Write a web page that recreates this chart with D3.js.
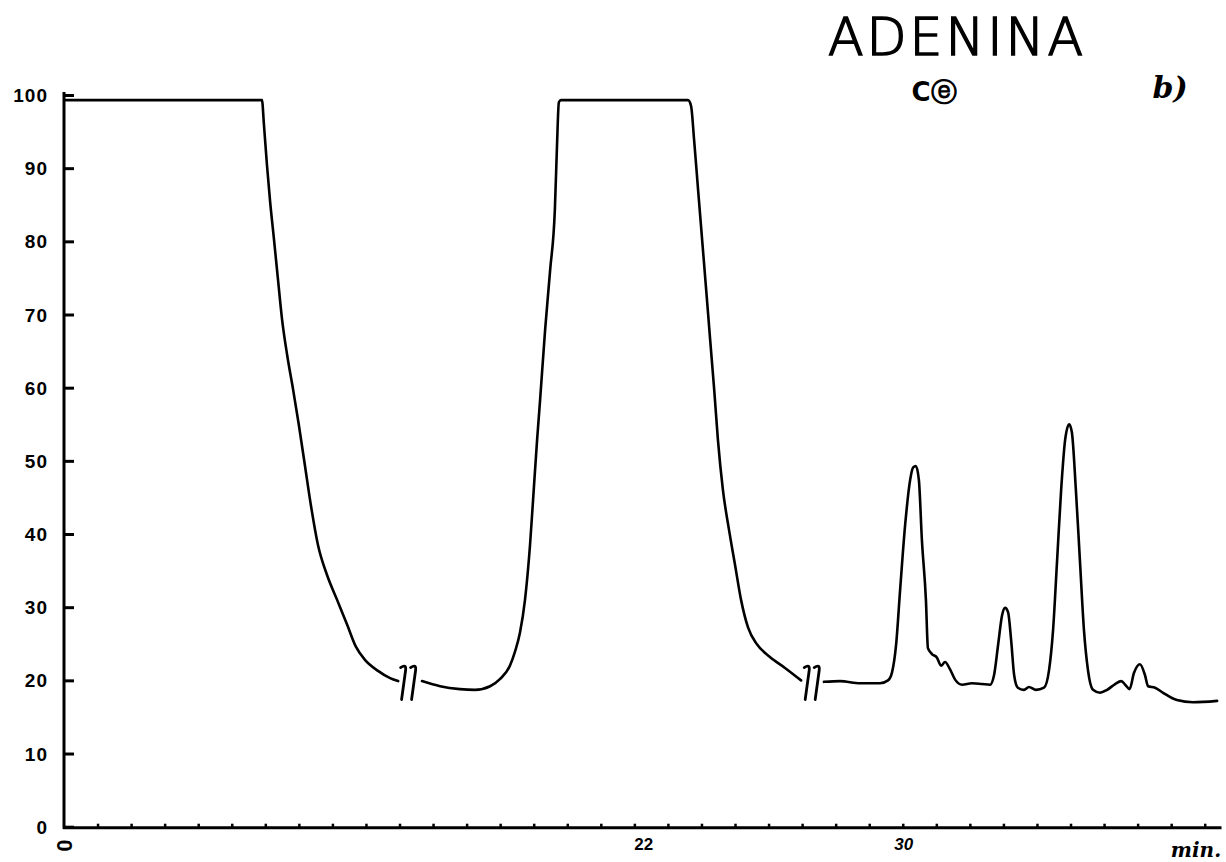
<!DOCTYPE html>
<html>
<head>
<meta charset="utf-8">
<script src="https://cdn.jsdelivr.net/npm/d3@7"></script>
<style>
  body { margin: 0; background: #fff; }
  svg { display: block; }
</style>
</head>
<body>
<div id="chart"></div>
<script>
// --- data (x in axis tick units, y in % of full scale) ---
var yTicks = [0, 10, 20, 30, 40, 50, 60, 70, 80, 90, 100];
var xMinorTicks = d3.range(1, 35);
var xTickValues = [0, 17.25, 25];
var xTickLabels = ["0", "22", "30"];

// trace before the first break
var segA = [[0.05,99.3],[5.90,99.3],[5.96,95.9],[6.05,90.4],[6.14,85.6],[6.26,80.2],[6.38,74.7],
  [6.50,69.3],[6.65,64.5],[6.83,59.7],[7.00,54.9],[7.18,49.4],[7.36,43.9],[7.57,38.5],[7.84,34.4],
  [8.14,31.0],[8.44,27.6],[8.70,24.6],[8.97,22.8],[9.36,21.3],[9.72,20.3],[9.96,19.9]];

// between the two breaks
var segB = [[10.67,19.9],[11.21,19.2],[11.80,18.8],[12.25,18.7],[12.70,19.2],[13.00,20.2],[13.29,22.0],
  [13.44,23.9],[13.59,26.5],[13.74,31.0],[13.89,38.5],[13.98,44.6],[14.10,52.8],[14.19,58.3],[14.34,67.9],
  [14.49,76.1],[14.63,84.3],[14.69,92.5],[14.75,99.0],[14.81,99.3],[18.60,99.3],[18.69,98.5],[18.78,93.9],
  [18.90,87.0],[19.02,80.2],[19.14,73.4],[19.26,66.5],[19.38,59.7],[19.49,52.9],[19.64,46.0],[19.82,40.6],
  [20.00,35.8],[20.18,31.0],[20.39,27.2],[20.66,24.9],[21.04,23.2],[21.49,21.7],[21.97,20.0]];

// after the second break : the peaks
var segC = [[22.65,19.8],[23.13,19.9],[23.73,19.6],[24.32,19.6],[24.56,20.0],[24.68,21.1],[24.80,24.8],
  [24.92,32.3],[25.07,41.2],[25.22,47.4],[25.31,49.1],[25.39,49.3],[25.48,47.4],[25.57,39.2],[25.69,31.0],
  [25.75,24.4],[25.87,23.6],[26.02,23.1],[26.14,22.0],[26.26,22.5],[26.41,21.5],[26.56,20.1],[26.77,19.4],
  [27.06,19.6],[27.36,19.5],[27.60,19.4],[27.72,20.7],[27.84,24.8],[27.96,28.9],[28.05,29.9],[28.14,29.3],
  [28.23,25.5],[28.32,20.7],[28.43,19.0],[28.61,18.7],[28.76,19.1],[28.97,18.7],[29.21,19.0],[29.36,21.4],
  [29.48,26.9],[29.60,36.4],[29.72,46.0],[29.84,52.9],[29.96,55.0],[30.04,53.9],[30.16,46.0],[30.28,36.4],
  [30.40,26.9],[30.52,21.4],[30.67,18.7],[30.88,18.3],[31.09,18.7],[31.33,19.5],[31.51,19.9],[31.65,19.3],
  [31.76,18.8],[31.89,21.0],[32.07,22.2],[32.22,20.7],[32.31,19.2],[32.52,19.0],[32.76,18.3],[33.17,17.3],
  [33.65,17.0],[34.37,17.2]];

// where the recorder trace was cut
var breaks = [[10.3,19.7],[22.33,19.7]];

// --- drawing ---
var W = 1226, H = 862;
var svg = d3.select('#chart').append('svg').attr('width', W).attr('height', H);

var x = d3.scaleLinear().domain([0, 34.5]).range([64, 1221.5]);
var y = d3.scaleLinear().domain([0, 100]).range([826.7, 95]);

var ink = '#000';

// y axis: ticks point inward
var yAxis = d3.axisRight(y).tickValues(yTicks).tickSize(10).tickFormat('');
var gy = svg.append('g').attr('transform', 'translate(' + x(0) + ',0)').call(yAxis);
gy.select('.domain').attr('stroke', ink).attr('stroke-width', 3)
  .attr('d', 'M0,' + (y(100) - 3) + 'V' + (y(0) + 2));
gy.selectAll('.tick line').attr('stroke', ink).attr('stroke-width', 3);

svg.selectAll('text.ylab').data(yTicks).enter().append('text')
  .attr('class', 'ylab')
  .attr('x', 48)
  .attr('y', function(d){ return y(d) + 7; })
  .attr('text-anchor', 'end')
  .style('font-family', 'Liberation Sans, Arial, sans-serif')
  .style('font-weight', 'bold')
  .style('font-size', '19px')
  .style('letter-spacing', '1px')
  .text(function(d){ return d; });

// x axis: small upward ticks
var xAxis = d3.axisTop(x).tickValues(xMinorTicks).tickSize(4).tickFormat('');
var gx = svg.append('g').attr('transform', 'translate(0,' + (y(0) + 1) + ')').call(xAxis);
gx.select('.domain').attr('stroke', ink).attr('stroke-width', 3)
  .attr('d', 'M' + (x(0) - 1) + ',0H' + x(34.5));
gx.selectAll('.tick line').attr('stroke', ink).attr('stroke-width', 2.5);

svg.selectAll('text.xlab').data(xTickValues).enter().append('text')
  .attr('class', 'xlab')
  .attr('transform', function(d, i){
    if (i == 0) return 'translate(' + (x(d) + 1) + ',' + (y(0) + 19) + ') rotate(90)';
    return 'translate(' + (x(d) + 1) + ',' + (y(0) + 23) + ')';
  })
  .attr('text-anchor', 'middle')
  .attr('dy', function(d, i){ return i == 0 ? '0.35em' : 0; })
  .style('font-family', 'Liberation Sans, Arial, sans-serif')
  .style('font-weight', 'bold')
  .style('font-size', function(d, i){ return i == 0 ? '22px' : '17px'; })
  .style('font-style', function(d, i){ return i == 2 ? 'italic' : 'normal'; })
  .text(function(d, i){ return xTickLabels[i]; });

svg.append('text')
  .attr('x', 1196).attr('y', 857)
  .attr('text-anchor', 'middle')
  .style('font-family', 'DejaVu Serif, serif')
  .style('font-style', 'italic')
  .style('font-weight', 'bold')
  .style('font-size', '20px')
  .text('min.');

// the trace
var line = d3.line()
  .x(function(d){ return x(d[0]); })
  .y(function(d){ return y(d[1]); })
  .curve(d3.curveMonotoneX);

svg.selectAll('path.trace').data([segA, segB, segC]).enter().append('path')
  .attr('class', 'trace')
  .attr('d', line)
  .attr('fill', 'none')
  .attr('stroke', ink)
  .attr('stroke-width', 2.6)
  .attr('stroke-linejoin', 'round')
  .attr('stroke-linecap', 'round');

// break marks "//"
var bk = svg.selectAll('g.brk').data(breaks).enter().append('g')
  .attr('class', 'brk')
  .attr('transform', function(d){ return 'translate(' + x(d[0]) + ',' + y(d[1]) + ')'; });
[-5, 5].forEach(function(dx){
  bk.append('path')
    .attr('d', 'M' + (dx - 3) + ',17 L' + (dx + 1) + ',-12 Q' + (dx + 2) + ',-19 ' + (dx - 4) + ',-15')
    .attr('fill', 'none')
    .attr('stroke', ink)
    .attr('stroke-width', 2.8)
    .attr('stroke-linecap', 'round');
});

// titles
svg.append('text')
  .attr('x', 828).attr('y', 55)
  .attr('textLength', 255)
  .style('font-family', 'DejaVu Sans, sans-serif')
  .style('font-weight', 200)
  .style('font-size', '52px')
  .style('stroke', ink)
  .style('stroke-width', 1.6)
  .text('ADENINA');

svg.append('text')
  .attr('x', 934).attr('y', 101)
  .attr('text-anchor', 'middle')
  .style('font-family', 'DejaVu Sans, sans-serif')
  .style('font-weight', 'bold')
  .style('font-size', '26px')
  .text('Cⓔ');

svg.append('text')
  .attr('x', 1170).attr('y', 98)
  .attr('text-anchor', 'middle')
  .style('font-family', 'DejaVu Serif, serif')
  .style('font-style', 'italic')
  .style('font-weight', 'bold')
  .style('font-size', '30px')
  .text('b)');
</script>
</body>
</html>
